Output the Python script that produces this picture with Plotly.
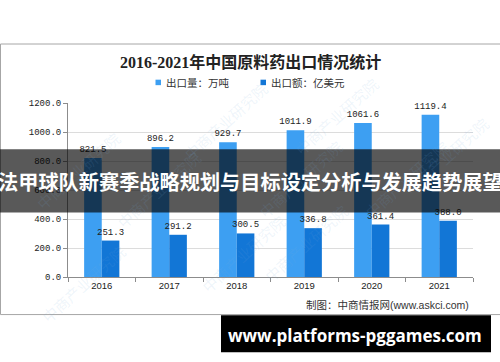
import plotly.graph_objects as go

years = ["2016", "2017", "2018", "2019", "2020", "2021"]
export_volume = [821.5, 896.2, 929.7, 1011.9, 1061.6, 1119.4]   # 出口量：万吨
export_value = [251.3, 291.2, 300.5, 336.8, 361.4, 388.0]       # 出口额：亿美元
y_ticks = [0, 200, 400, 600, 800, 1000, 1200]

title_text = "2016-2021年中国原料药出口情况统计"
legend_names = ["出口量：万吨", "出口额：亿美元"]
source_text = "制图：中商情报网(www.askci.com)"
overlay_text = "法甲球队新赛季战略规划与目标设定分析与发展趋势展望"
footer_text = "www.platforms-pggames.com"
watermark_text = "中商产业研究院"

LIGHT = "#3d9ff2"
DARK = "#1276d6"

W, H = 500, 362
L, R, T, B = 68, 473, 102.7, 277.3


def px(x):
    return (x - L) / (R - L)


def py(y):
    return (B - y) / (B - T)


fig = go.Figure()
for vals, name, col in [(export_volume, legend_names[0], LIGHT), (export_value, legend_names[1], DARK)]:
    fig.add_trace(go.Bar(
        x=years, y=vals, name=name, marker_color=col,
        marker_line_width=0, texttemplate="%{y:.1f}", textposition="outside",
        constraintext="none",
        textfont=dict(family="Liberation Mono", size=9, color="#222"), cliponaxis=False,
    ))

shapes = []
annotations = []

# outer frame
shapes.append(dict(type="rect", xref="paper", yref="paper",
                   x0=px(0.5), x1=px(500.5), y0=py(315), y1=py(43.5),
                   line=dict(color="#a6a6a6", width=1), fillcolor="rgba(0,0,0,0)", layer="below"))

# watermarks
for (wx, wy) in [(30, 125), (225, 75), (385, 70), (495, 110), (110, 235), (300, 225),
                 (455, 225), (195, 300), (355, 290), (35, 330)]:
    annotations.append(dict(xref="paper", yref="paper", x=px(wx), y=py(wy),
                            text=watermark_text, showarrow=False, textangle=-42,
                            font=dict(family="Noto Sans CJK SC", size=15, color="rgba(120,170,220,0.13)")))

# title
annotations.append(dict(xref="paper", yref="paper", x=px(250.5), y=py(62), text="<b>" + title_text + "</b>",
                        showarrow=False, xanchor="center", yanchor="middle",
                        font=dict(family="Liberation Serif, Noto Sans CJK SC", size=16, color="#222")))

# legend (manual)
for (sx, tx, col, name) in [(155.5, 164, LIGHT, legend_names[0]), (260.5, 269, DARK, legend_names[1])]:
    shapes.append(dict(type="rect", xref="paper", yref="paper",
                       x0=px(sx), x1=px(sx + 5.5), y0=py(84.8), y1=py(79.3),
                       fillcolor=col, line_width=0))
    annotations.append(dict(xref="paper", yref="paper", x=px(tx), y=py(82), text=name,
                            showarrow=False, xanchor="left", yanchor="middle",
                            font=dict(family="Noto Sans CJK SC", size=10.5, color="#333")))

# source
annotations.append(dict(xref="paper", yref="paper", x=px(471), y=py(305), text=source_text,
                        showarrow=False, xanchor="right", yanchor="middle",
                        font=dict(family="Liberation Sans, Noto Sans CJK SC", size=10.5, color="#333")))

# overlay banner
shapes.append(dict(type="rect", xref="paper", yref="paper",
                   x0=px(0), x1=px(500), y0=py(212.7), y1=py(149),
                   fillcolor="rgba(0,0,0,0.65)", line_width=0, layer="above"))
annotations.append(dict(xref="paper", yref="paper", x=px(250), y=py(181), text="<b>" + overlay_text + "</b>",
                        showarrow=False, xanchor="center", yanchor="middle",
                        font=dict(family="Noto Sans CJK SC", size=20.2, color="white")))

# footer banner
shapes.append(dict(type="rect", xref="paper", yref="paper",
                   x0=px(221), x1=px(491), y0=py(352.7), y1=py(315.7),
                   fillcolor="black", line_width=0, layer="above"))
annotations.append(dict(xref="paper", yref="paper", x=px(355), y=py(336), text="<b>" + footer_text + "</b>",
                        showarrow=False, xanchor="center", yanchor="middle",
                        font=dict(family="Open Sans", size=17, color="white")))

fig.update_layout(
    width=W, height=H,
    margin=dict(l=L, r=W - R, t=T, b=H - B, pad=0),
    paper_bgcolor="white", plot_bgcolor="white",
    barmode="group", bargap=0.478, bargroupgap=0,
    showlegend=False,
    shapes=shapes, annotations=annotations,
    xaxis=dict(type="category", showline=True, linecolor="#8c8c8c", linewidth=1,
               ticks="outside", tickson="boundaries", ticklen=4, tickcolor="#8c8c8c",
               showgrid=False, tickfont=dict(family="Liberation Sans", size=9.5, color="#222")),
    yaxis=dict(range=[0, 1200], tickvals=y_ticks, tickformat=".1f", showline=True,
               linecolor="#8c8c8c", linewidth=1, ticks="outside", ticklen=4, tickcolor="#8c8c8c",
               gridcolor="#dcdcdc", gridwidth=1, zeroline=False,
               tickfont=dict(family="Liberation Mono", size=9, color="#222")),
)

fig.write_html("out.html")
